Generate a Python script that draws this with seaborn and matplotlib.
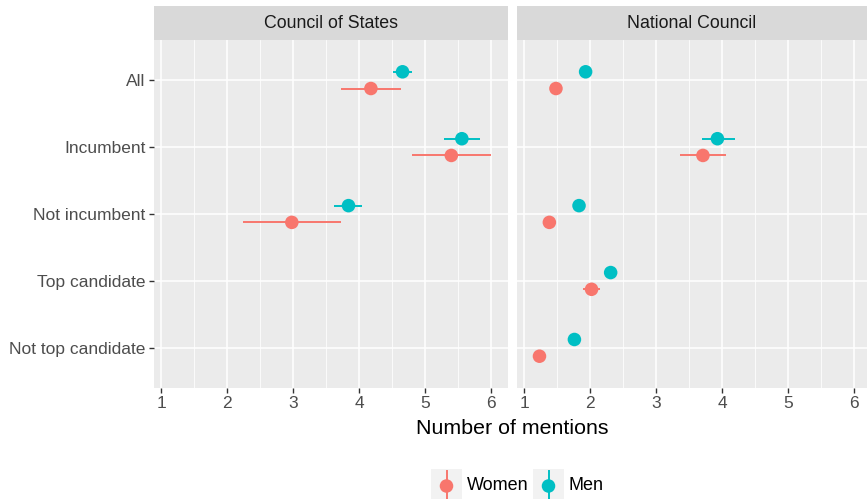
import numpy as np
import pandas as pd
import matplotlib
matplotlib.use("Agg")
import matplotlib.pyplot as plt
import seaborn as sns
from matplotlib.patches import Rectangle
from matplotlib.lines import Line2D

# Categories and facets
categories = ["All", "Incumbent", "Not incumbent", "Top candidate", "Not top candidate"]
panels = ["Council of States", "National Council"]
genders = ["Women", "Men"]

# Council of States (no top-candidate rows)
cs_women_mean = [4.18, 5.40, 2.98, np.nan, np.nan]
cs_women_lo = [3.73, 4.80, 2.24, np.nan, np.nan]
cs_women_hi = [4.63, 6.00, 3.73, np.nan, np.nan]
cs_men_mean = [4.66, 5.56, 3.84, np.nan, np.nan]
cs_men_lo = [4.51, 5.29, 3.62, np.nan, np.nan]
cs_men_hi = [4.81, 5.83, 4.05, np.nan, np.nan]

# National Council
nc_women_mean = [1.48, 3.71, 1.38, 2.02, 1.23]
nc_women_lo = [1.43, 3.36, 1.33, 1.89, 1.19]
nc_women_hi = [1.53, 4.06, 1.43, 2.15, 1.27]
nc_men_mean = [1.93, 3.93, 1.83, 2.31, 1.76]
nc_men_lo = [1.88, 3.69, 1.78, 2.26, 1.71]
nc_men_hi = [1.98, 4.19, 1.88, 2.36, 1.81]

palette = {"Women": "#F8766D", "Men": "#00BFC4"}
dodge = {"Women": 0.125, "Men": -0.125}

rows = []
series = {
    ("Council of States", "Women"): (cs_women_mean, cs_women_lo, cs_women_hi),
    ("Council of States", "Men"): (cs_men_mean, cs_men_lo, cs_men_hi),
    ("National Council", "Women"): (nc_women_mean, nc_women_lo, nc_women_hi),
    ("National Council", "Men"): (nc_men_mean, nc_men_lo, nc_men_hi),
}
for (panel, gender), (m, lo, hi) in series.items():
    for i, cat in enumerate(categories):
        rows.append(dict(panel=panel, gender=gender, category=cat,
                         mean=m[i], lo=lo[i], hi=hi[i],
                         ypos=i + dodge[gender]))
df = pd.DataFrame(rows).dropna()

plt.rcParams["font.family"] = ["Liberation Sans", "DejaVu Sans"]

W, H = 867, 499
fig = plt.figure(figsize=(W / 100, H / 100), dpi=100)

def px(x0, y0, x1, y1):
    return [x0 / W, 1 - y1 / H, (x1 - x0) / W, (y1 - y0) / H]

panel_x = [(154, 508), (517, 871)]
strip_centers = [331, 692]
top, bottom = 40, 388

for k, panel in enumerate(panels):
    x0, x1 = panel_x[k]
    ax = fig.add_axes(px(x0, top, x1, bottom))
    ax.set_facecolor("#EBEBEB")
    for s in ax.spines.values():
        s.set_visible(False)
    ax.set_xlim(0.889, 6.26)
    ax.set_ylim(len(categories) - 0.4, -0.6)
    ax.set_xticks([1, 2, 3, 4, 5, 6])
    ax.set_xticks([1.5, 2.5, 3.5, 4.5, 5.5], minor=True)
    ax.set_yticks(range(len(categories)))
    ax.grid(which="major", color="white", linewidth=1.1)
    ax.grid(which="minor", axis="x", color="white", linewidth=0.55)
    ax.set_axisbelow(True)
    ax.tick_params(which="major", length=3.5, width=1.0, color="#333333",
                   labelsize=12.5, labelcolor="#4D4D4D", pad=2.5)
    ax.tick_params(which="minor", length=0)
    if k == 0:
        ax.set_yticklabels(categories)
    else:
        ax.set_yticklabels([])
        ax.tick_params(axis="y", length=0)

    sub = df[df["panel"] == panel]
    for g in genders:
        d = sub[sub["gender"] == g]
        ax.hlines(d["ypos"], d["lo"], d["hi"], color=palette[g], linewidth=1.4, zorder=2)
    sns.scatterplot(data=sub, x="mean", y="ypos", hue="gender", palette=palette,
                    s=95, edgecolor="none", legend=False, ax=ax, zorder=3)
    ax.set_xlabel("")
    ax.set_ylabel("")

    # facet strip
    sax = fig.add_axes(px(x0, 6, x1, top))
    sax.set_facecolor("#D9D9D9")
    sax.set_xticks([])
    sax.set_yticks([])
    for s in sax.spines.values():
        s.set_visible(False)
    fig.text(strip_centers[k] / W, 1 - 23 / H, panel, ha="center", va="center",
             fontsize=12.8, color="#1A1A1A")

fig.text(512 / W, 1 - 428 / H, "Number of mentions", ha="center", va="center",
         fontsize=15.4, color="black")

# legend drawn as a small overlay
lax = fig.add_axes([0, 0, 1, 1])
lax.set_xlim(0, W)
lax.set_ylim(H, 0)
lax.axis("off")
for (kx, tx, g) in [(431, 467, "Women"), (533, 568, "Men")]:
    lax.add_patch(Rectangle((kx, 469), 31, 32, facecolor="#F2F2F2", edgecolor="none"))
    lax.add_line(Line2D([kx + 15.5, kx + 15.5], [471, 501], color=palette[g], linewidth=1.4))
    lax.scatter([kx + 15.5], [486], s=95, color=palette[g], edgecolor="none", zorder=3)
    lax.text(tx, 486, g, ha="left", va="center", fontsize=13, color="black")

fig.savefig("out.png", dpi=100)
